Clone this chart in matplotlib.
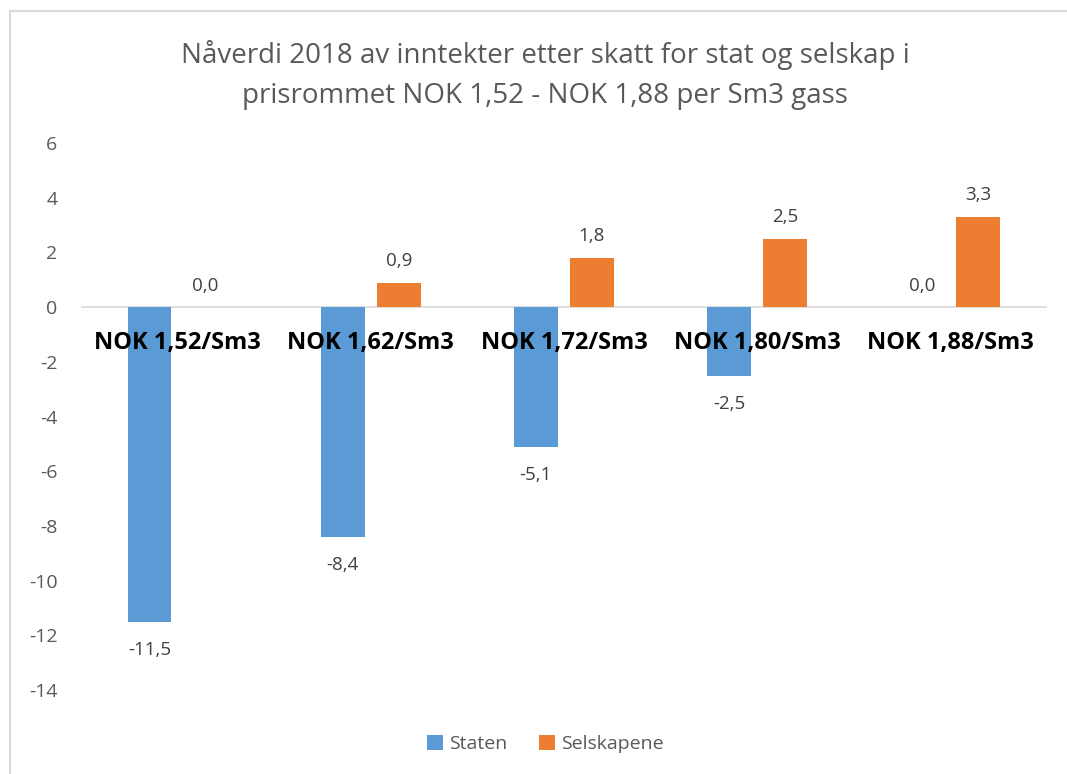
import numpy as np
import matplotlib.pyplot as plt
import matplotlib.patches as mpatches

# Nåverdi per prisnivå, stat og selskap
categories = ['NOK 1,52/Sm3', 'NOK 1,62/Sm3', 'NOK 1,72/Sm3', 'NOK 1,80/Sm3', 'NOK 1,88/Sm3']
staten = [-11.5, -8.4, -5.1, -2.5, 0.0]
selskapene = [0.0, 0.9, 1.8, 2.5, 3.3]
yticks = [-14, -12, -10, -8, -6, -4, -2, 0, 2, 4, 6]

plt.rcParams['font.family'] = ['Open Sans', 'DejaVu Sans']

blue = '#5B9BD5'
orange = '#ED7D31'
grey_txt = '#595959'

fig = plt.figure(figsize=(10.67, 7.74), dpi=100)
ax = fig.add_axes([0.076, 0.1085, 0.905, 0.7067])

x = np.arange(len(categories))
w = 0.225
off = 0.145
b1 = ax.bar(x - off, staten, w, color=blue, label='Staten', zorder=2)
b2 = ax.bar(x + off, selskapene, w, color=orange, label='Selskapene', zorder=2)

def fmt(v):
    return f'{v:.1f}'.replace('.', ',')

for bars, vals in [(b1, staten), (b2, selskapene)]:
    for rect, v in zip(bars, vals):
        cx = rect.get_x() + rect.get_width() / 2
        if v < 0:
            ax.annotate(fmt(v), (cx, v), xytext=(0, -14), textcoords='offset points',
                        ha='center', va='top', fontsize=13.5, color='#404040')
        else:
            ax.annotate(fmt(v), (cx, v), xytext=(0, 9), textcoords='offset points',
                        ha='center', va='bottom', fontsize=13.5, color='#404040')

ax.set_ylim(-14, 6)
ax.set_xlim(-0.5, len(categories) - 0.5)
ax.set_yticks(yticks)
ax.set_yticklabels([str(t) for t in yticks], color=grey_txt, fontsize=14)
ax.tick_params(axis='y', length=0, pad=17)
ax.set_xticks([])
ax.axhline(0, color='#D9D9D9', lw=1.2, zorder=1)
for s in ax.spines.values():
    s.set_visible(False)

# kategorinavn ved nullinjen
for xi, c in zip(x, categories):
    ax.text(xi, -1.3, c, ha='center', va='center', fontsize=17,
            fontweight='bold', color='black', zorder=3)

fig.text(0.511, 0.903, 'Nåverdi 2018 av inntekter etter skatt for stat og selskap i\n'
         'prisrommet NOK 1,52 - NOK 1,88 per Sm3 gass',
         ha='center', va='center', fontsize=20, color=grey_txt, linespacing=1.55)

fig.legend(handles=[b1, b2], loc='center', bbox_to_anchor=(0.511, 0.039), ncol=2,
           frameon=False, fontsize=14, labelcolor=grey_txt, handlelength=0.85,
           handleheight=0.85, handletextpad=0.3, columnspacing=1.6)

# ramme rundt diagrammet
fig.patches.append(mpatches.Rectangle((10 / 1067, -0.1), 1.2, 1 - 11 / 774 + 0.1,
                                      transform=fig.transFigure, fill=False,
                                      edgecolor='#D9D9D9', lw=1.5))

fig.savefig('out.png', dpi=100)
